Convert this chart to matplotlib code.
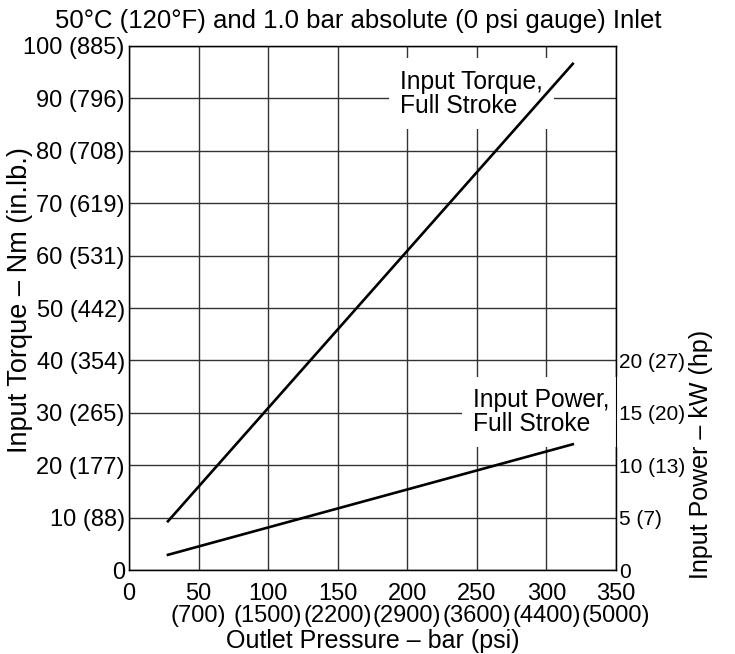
import matplotlib
matplotlib.use("Agg")
import matplotlib.pyplot as plt

plt.rcParams["font.family"] = ["Liberation Sans", "DejaVu Sans"]
plt.rcParams["font.size"] = 17

# data
pressure_bar = [28, 319]           # outlet pressure, bar
torque_nm = [9.3, 96.6]            # input torque, full stroke
power_kw = [1.45, 12.0]            # input power, full stroke

x_ticks = [0, 50, 100, 150, 200, 250, 300, 350]
x_tick_labels = ["0", "50\n(700)", "100\n(1500)", "150\n(2200)", "200\n(2900)",
                 "250\n(3600)", "300\n(4400)", "350\n(5000)"]
torque_ticks = [0, 10, 20, 30, 40, 50, 60, 70, 80, 90, 100]
torque_tick_labels = ["0", "10 (88)", "20 (177)", "30 (265)", "40 (354)", "50 (442)",
                      "60 (531)", "70 (619)", "80 (708)", "90 (796)", "100 (885)"]
power_ticks = [0, 5, 10, 15, 20]
power_tick_labels = ["0", "5 (7)", "10 (13)", "15 (20)", "20 (27)"]

fig = plt.figure(figsize=(7.35, 6.54), dpi=100)
ax = fig.add_axes([0.1755, 0.1284, 0.6625, 0.8013])

ax.set_xlim(0, 350)
ax.set_ylim(0, 100)
ax.set_xticks(x_ticks)
ax.set_xticklabels(x_tick_labels, linespacing=1.0)
ax.set_yticks(torque_ticks)
ax.set_yticklabels(torque_tick_labels)
ax.tick_params(axis="y", length=0, pad=3)
ax.tick_params(axis="x", length=0, pad=9)
ax.grid(True, color="#333333", linewidth=1.0, zorder=0)
ax.set_axisbelow(True)
for s in ax.spines.values():
    s.set_linewidth(1.0)

ax.set_xlabel("Outlet Pressure – bar (psi)", fontsize=18, labelpad=2)
ax.set_ylabel("Input Torque – Nm (in.lb.)", fontsize=19.5)
ax.yaxis.set_label_coords(-0.197, 0.515)

# power axis: 20 kW lines up with 40 Nm
ax2 = ax.twinx()
ax2.set_ylim(0, 50)
ax2.set_yticks(power_ticks)
ax2.set_yticklabels(power_tick_labels, fontsize=15)
ax2.tick_params(length=0, pad=2)
ax2.set_ylabel("Input Power – kW (hp)", fontsize=18)
ax2.yaxis.set_label_coords(1.15, 0.221)

ax.plot(pressure_bar, torque_nm, color="black", linewidth=1.9, zorder=5)
ax2.plot(pressure_bar, power_kw, color="black", linewidth=1.9, zorder=5)

box = dict(facecolor="white", edgecolor="none", pad=8)
ax.text(195, 95.5, "Input Torque,\nFull Stroke", ha="left", va="top",
        fontsize=17.7, linespacing=1.0, bbox=box, zorder=3)
ax.text(247, 34.8, "Input Power,\nFull Stroke", ha="left", va="top",
        fontsize=17.7, linespacing=1.0, bbox=box, zorder=3)

fig.text(0.488, 0.968, "50°C (120°F) and 1.0 bar absolute (0 psi gauge) Inlet",
         ha="center", va="center", fontsize=18.5)

fig.savefig("out.png", dpi=100)
